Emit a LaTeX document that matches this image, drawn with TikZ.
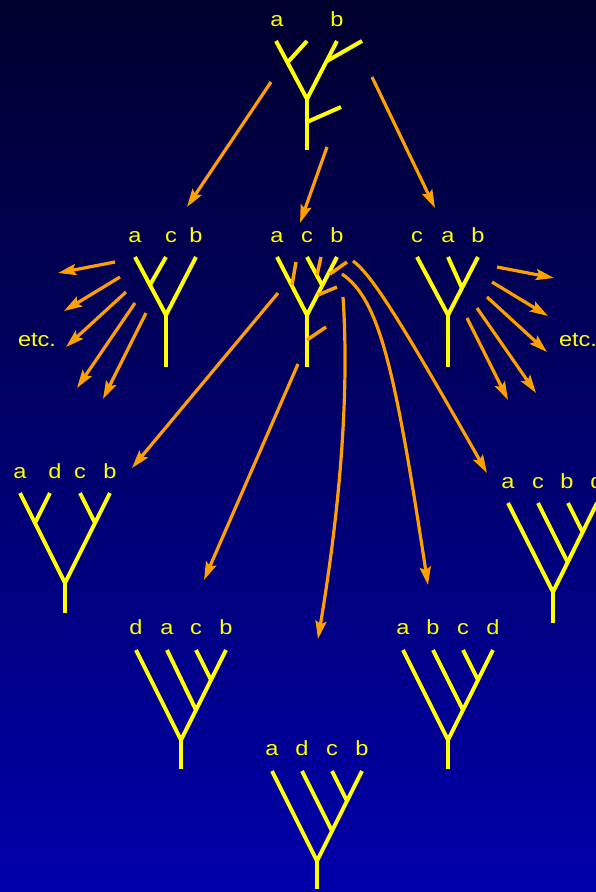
\documentclass[tikz,border=0pt]{standalone}
\usepackage{fontspec}
\setmainfont{Liberation Sans}[FakeStretch=1.15]
\usepackage{tikz}
\usetikzlibrary{arrows.meta}
\usepackage{xcolor}

\definecolor{fundotopo}{RGB}{0,0,45}
\definecolor{fundobase}{RGB}{0,0,170}
\definecolor{amarelo}{RGB}{255,255,0}
\definecolor{laranja}{RGB}{255,160,0}

\begin{document}
\begin{tikzpicture}[
    x=1pt, y=-1pt,
    >={Stealth[length=18pt, width=11pt, inset=3pt]},
    every node/.style={font=\fontsize{20.5}{24}\selectfont, text=amarelo, inner sep=0pt},
    leaf/.style={anchor=base},
    tree/.style={draw=amarelo, line width=4pt},
    insert/.style={draw=laranja, line width=3.5pt},
    arrow/.style={->, draw=laranja, line width=3.2pt}
]

% Fundo
\useasboundingbox (0,0) rectangle (596,892);
\clip (0,0) rectangle (596,892);
\shade[top color=fundotopo, bottom color=fundobase] (0,0) rectangle (596,892);

% Arvore inicial (a b)
\node[leaf] (top-a) at (277,26) {a};
\node[leaf] (top-b) at (337,26) {b};
\draw[tree] (276,41) -- (307,99) -- (337,41);
\draw[tree] (288,62) -- (307,41);
\draw[tree] (327,61) -- (362,41);
\draw[tree] (307,99) -- (307,150);
\draw[tree] (307,122) -- (341,107);

\coordinate (top-s1) at (271,82);
\coordinate (top-s2) at (327,147);
\coordinate (top-s3) at (372,77);
\coordinate (acbl-in) at (187,207);
\coordinate (acbm-in) at (300,223);
\coordinate (cab-in) at (435,208);

\draw[arrow] (top-s1) -- (acbl-in);
\draw[arrow] (top-s2) -- (acbm-in);
\draw[arrow] (top-s3) -- (cab-in);

% Segunda linha: a c b (esquerda)
\node[leaf] (acbl-a) at (135,242) {a};
\node[leaf] (acbl-c) at (171,242) {c};
\node[leaf] (acbl-b) at (196,242) {b};
\draw[tree] (135,257) -- (166,315) -- (196,257);
\draw[tree] (150,285) -- (166,257);
\draw[tree] (166,315) -- (166,367);

\node[leaf] (etc-l) at (37,346) {etc.};
\coordinate (fl-s1) at (115,262); \coordinate (fl-e1) at (58,273);
\coordinate (fl-s2) at (120,277); \coordinate (fl-e2) at (64,311);
\coordinate (fl-s3) at (126,292); \coordinate (fl-e3) at (66,347);
\coordinate (fl-s4) at (135,303); \coordinate (fl-e4) at (77,388);
\coordinate (fl-s5) at (146,313); \coordinate (fl-e5) at (103,399);
\draw[arrow] (fl-s1) -- (fl-e1);
\draw[arrow] (fl-s2) -- (fl-e2);
\draw[arrow] (fl-s3) -- (fl-e3);
\draw[arrow] (fl-s4) -- (fl-e4);
\draw[arrow] (fl-s5) -- (fl-e5);

% Segunda linha: a c b (meio)
\node[leaf] (acbm-a) at (277,242) {a};
\node[leaf] (acbm-c) at (307,242) {c};
\node[leaf] (acbm-b) at (337,242) {b};
\draw[tree] (277,257) -- (307,315) -- (337,257);
\draw[tree] (322,285) -- (307,257);
\draw[tree] (307,315) -- (307,367);

% posicoes de insercao de d
\draw[insert] (292,285) -- (296,262);
\draw[insert] (317,275) -- (321,257);
\draw[insert] (330,274) -- (347,262);
\draw[insert] (318,295) -- (337,287);
\draw[insert] (307,340) -- (326,327);

% Segunda linha: c a b (direita)
\node[leaf] (cab-c) at (417,242) {c};
\node[leaf] (cab-a) at (448,242) {a};
\node[leaf] (cab-b) at (478,242) {b};
\draw[tree] (417,257) -- (448,315) -- (478,257);
\draw[tree] (462,288) -- (448,257);
\draw[tree] (448,315) -- (448,367);

\node[leaf] (etc-r) at (578,346) {etc.};
\coordinate (fr-s1) at (497,267); \coordinate (fr-e1) at (554,278);
\coordinate (fr-s2) at (492,282); \coordinate (fr-e2) at (548,316);
\coordinate (fr-s3) at (487,297); \coordinate (fr-e3) at (547,352);
\coordinate (fr-s4) at (477,308); \coordinate (fr-e4) at (536,393);
\coordinate (fr-s5) at (467,318); \coordinate (fr-e5) at (508,400);
\draw[arrow] (fr-s1) -- (fr-e1);
\draw[arrow] (fr-s2) -- (fr-e2);
\draw[arrow] (fr-s3) -- (fr-e3);
\draw[arrow] (fr-s4) -- (fr-e4);
\draw[arrow] (fr-s5) -- (fr-e5);

% Setas da arvore do meio
\coordinate (m-s1) at (278,293);
\coordinate (m-s2) at (298,364);
\coordinate (m-s3) at (343,297);
\coordinate (m-s4) at (342,274);
\coordinate (m-s5) at (353,261);
\coordinate (adcb-in) at (132,468);
\coordinate (dacb-in) at (204,580);
\coordinate (adcb2-in) at (318,639);
\coordinate (abcd-in) at (428,585);
\coordinate (acbd-in) at (487,473);

\draw[arrow] (m-s1) -- (adcb-in);
\draw[arrow] (m-s2) -- (dacb-in);
\draw[arrow] (m-s3) .. controls (350,400) and (338,520) .. (adcb2-in);
\draw[arrow] (m-s4) .. controls (380,300) and (395,370) .. (abcd-in);
\draw[arrow] (m-s5) .. controls (372,275) and (400,320) .. (acbd-in);

% Terceira linha: a d c b
\node[leaf] (adcb-a) at (20,478) {a};
\node[leaf] (adcb-d) at (55,478) {d};
\node[leaf] (adcb-c) at (80,478) {c};
\node[leaf] (adcb-b) at (110,478) {b};
\draw[tree] (20,493) -- (65,583) -- (110,493);
\draw[tree] (35,523) -- (50,493);
\draw[tree] (95,523) -- (80,493);
\draw[tree] (65,583) -- (65,613);

% Terceira linha: a c b d
\node[leaf] (acbd-a) at (508,488) {a};
\node[leaf] (acbd-c) at (538,488) {c};
\node[leaf] (acbd-b) at (567,488) {b};
\node[leaf] (acbd-d) at (597,488) {d};
\draw[tree] (508,503) -- (553,592) -- (597,503);
\draw[tree] (567,561) -- (538,503);
\draw[tree] (582,531) -- (568,503);
\draw[tree] (553,592) -- (553,623);

% Quarta linha: d a c b
\node[leaf] (dacb-d) at (136,634) {d};
\node[leaf] (dacb-a) at (167,634) {a};
\node[leaf] (dacb-c) at (196,634) {c};
\node[leaf] (dacb-b) at (226,634) {b};
\draw[tree] (136,650) -- (181,740) -- (226,650);
\draw[tree] (196,710) -- (167,650);
\draw[tree] (211,680) -- (196,650);
\draw[tree] (181,740) -- (181,769);

% Quarta linha: a b c d
\node[leaf] (abcd-a) at (403,634) {a};
\node[leaf] (abcd-b) at (433,634) {b};
\node[leaf] (abcd-c) at (463,634) {c};
\node[leaf] (abcd-d) at (493,634) {d};
\draw[tree] (403,650) -- (448,740) -- (493,650);
\draw[tree] (463,710) -- (433,650);
\draw[tree] (478,680) -- (463,650);
\draw[tree] (448,740) -- (448,769);

% Ultima: a d c b
\node[leaf] (adcb2-a) at (272,755) {a};
\node[leaf] (adcb2-d) at (302,755) {d};
\node[leaf] (adcb2-c) at (332,755) {c};
\node[leaf] (adcb2-b) at (362,755) {b};
\draw[tree] (272,771) -- (317,861) -- (362,771);
\draw[tree] (332,831) -- (302,771);
\draw[tree] (347,801) -- (332,771);
\draw[tree] (317,861) -- (317,889);

\end{tikzpicture}
\end{document}
